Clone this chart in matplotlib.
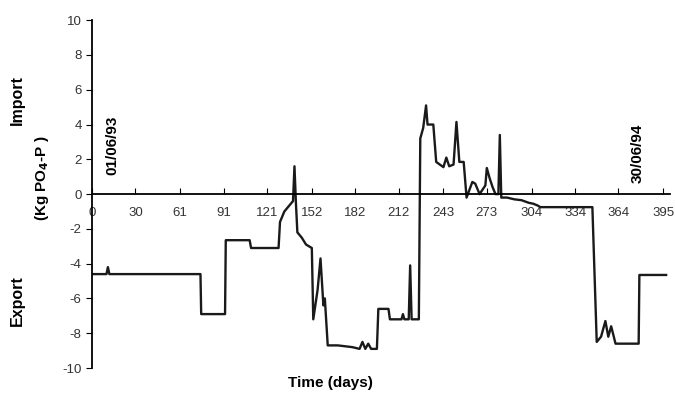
import matplotlib
matplotlib.use('Agg')
import matplotlib.pyplot as plt

plt.rcParams['font.family'] = ['Liberation Sans', 'DejaVu Sans']
plt.rcParams['axes.unicode_minus'] = False

# daily phosphate balance (Kg PO4-P), + import / - export
days = [0, 10, 11, 12, 75, 75.5, 92, 92.5, 109, 110, 129, 130, 133, 134, 137, 139,
        140, 141, 142, 145, 148, 152, 153, 156, 158, 160, 161, 163, 170, 180, 185,
        187, 189, 191, 193, 197, 198, 205, 206, 214, 215, 216, 219, 220, 221, 226,
        227, 229, 231, 232, 236, 238, 243, 245, 247, 250, 252, 254, 257, 259, 263,
        265, 268, 272, 273, 275, 277, 279, 281, 282, 283, 287, 292, 297, 302, 305,
        308, 310, 346, 349, 352, 355, 357, 359, 362, 378, 378.5, 397]
balance = [-4.6, -4.6, -4.2, -4.6, -4.6, -6.9, -6.9, -2.65, -2.65, -3.1, -3.1, -1.6,
           -1.0, -0.9, -0.6, -0.4, 1.6, -0.5, -2.2, -2.5, -2.9, -3.1, -7.2, -5.5,
           -3.7, -6.4, -6.0, -8.7, -8.7, -8.8, -8.9, -8.5, -8.9, -8.6, -8.9, -8.9,
           -6.6, -6.6, -7.2, -7.2, -6.9, -7.2, -7.2, -4.1, -7.2, -7.2, 3.2, 3.8,
           5.1, 4.0, 4.0, 1.85, 1.55, 2.1, 1.6, 1.7, 4.15, 1.85, 1.85, -0.2, 0.7,
           0.6, 0.0, 0.5, 1.5, 0.9, 0.4, 0.0, 0.0, 3.4, -0.2, -0.2, -0.3, -0.35,
           -0.5, -0.55, -0.65, -0.75, -0.75, -8.5, -8.2, -7.3, -8.2, -7.6, -8.6,
           -8.6, -4.65, -4.65]

xticks = [0, 30, 61, 91, 121, 152, 182, 212, 243, 273, 304, 334, 364, 395]
yticks = [-10, -8, -6, -4, -2, 0, 2, 4, 6, 8, 10]

fig = plt.figure(figsize=(6.75, 3.93), dpi=100)
ax = fig.add_axes([0.1363, 0.0636, 0.857, 0.885])

ax.plot(days, balance, color='#1a1a1a', lw=1.7)

ax.set_xlim(0, 400)
ax.set_ylim(-10, 10)
ax.spines['top'].set_visible(False)
ax.spines['right'].set_visible(False)
ax.spines['bottom'].set_position(('data', 0))
ax.spines['bottom'].set_linewidth(1.3)
ax.spines['left'].set_linewidth(1.3)

ax.set_xticks(xticks)
ax.set_yticks(yticks)
ax.tick_params(axis='x', direction='in', length=4, pad=9, labelsize=9.5,
               labelcolor='#333333')
ax.tick_params(axis='y', direction='out', length=4, labelsize=9.5,
               labelcolor='#333333')

# axis titles
fig.text(0.026, 0.745, 'Import', rotation=90, ha='center', va='center',
         fontsize=11.5, fontweight='bold')
fig.text(0.026, 0.235, 'Export', rotation=90, ha='center', va='center',
         fontsize=11.5, fontweight='bold')
fig.text(0.062, 0.547, r'(Kg PO$_\mathbf{4}$-P )', rotation=90, ha='center',
         va='center', fontsize=11, fontweight='bold')
fig.text(0.489, 0.025, 'Time (days)', ha='center', va='center',
         fontsize=11, fontweight='bold')

# date markers
ax.text(14, 2.8, '01/06/93', rotation=90, ha='center', va='center',
        fontsize=11, fontweight='bold')
ax.text(377, 2.35, '30/06/94', rotation=90, ha='center', va='center',
        fontsize=11, fontweight='bold')

fig.savefig('out.png', dpi=100)
